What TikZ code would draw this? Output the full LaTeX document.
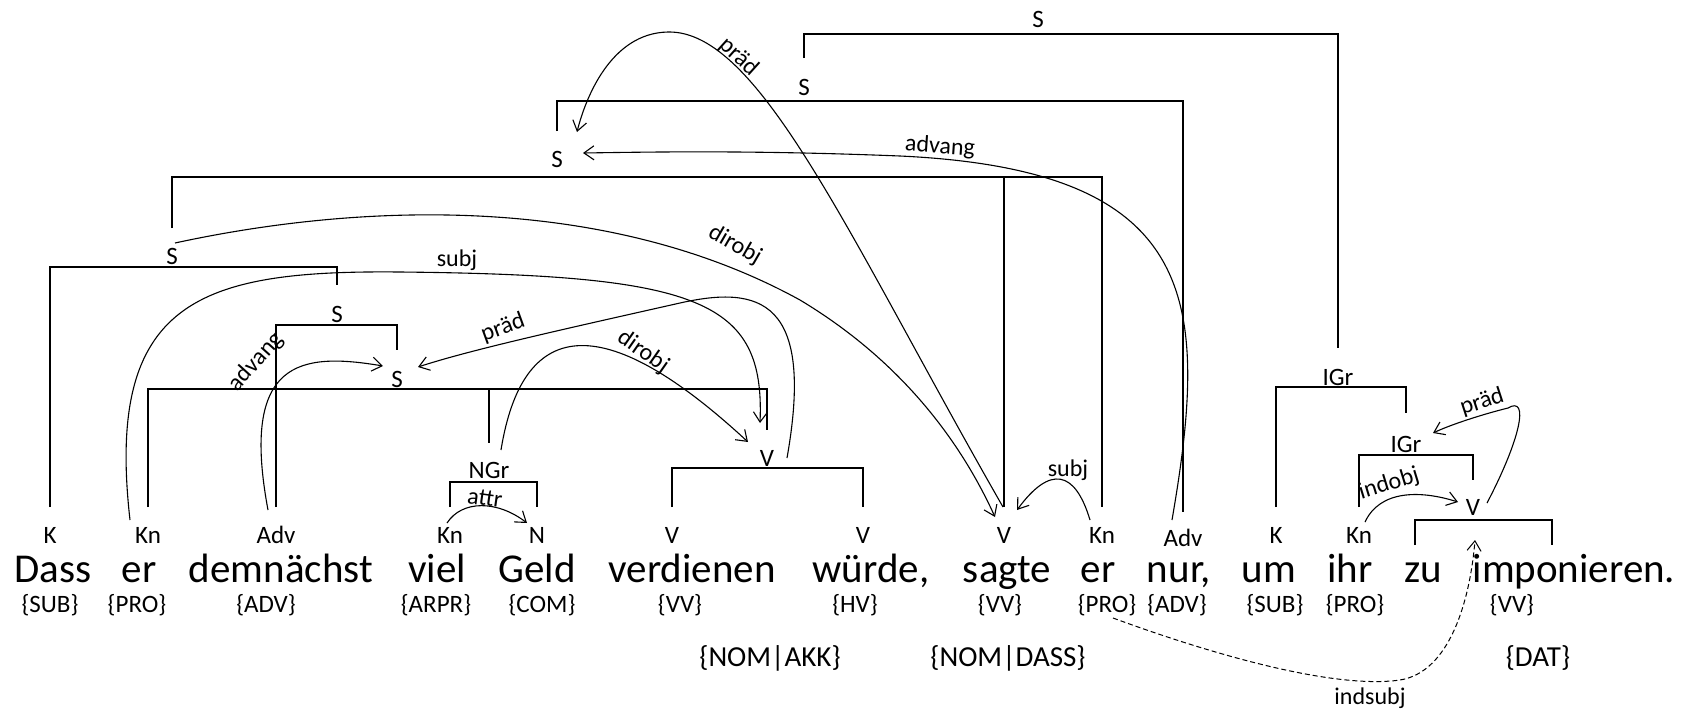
\documentclass[tikz,border=0pt]{standalone}
\usepackage{fontspec}
\setmainfont{Carlito}
\usetikzlibrary{arrows.meta}
\begin{document}
\begin{tikzpicture}[x=1pt,y=-1pt,
 wordn/.style={anchor=base,inner sep=0pt,font=\fontsize{41}{45}\selectfont},
 labn/.style={anchor=base,inner sep=0pt,font=\fontsize{25}{28}\selectfont},
 tagn/.style={anchor=base,inner sep=0pt,font=\fontsize{25}{28}\selectfont},
 btagn/.style={anchor=base,inner sep=0pt,font=\fontsize{29}{32}\selectfont},
 rlab/.style={inner sep=0pt,font=\fontsize{24}{27}\selectfont},
 brk/.style={line width=2.3pt,line join=miter},
 dep/.style={line width=1.1pt,-{Straight Barb[length=10pt,width=14pt]}},
 dashdep/.style={line width=1pt,dash pattern=on 5pt off 3pt,-{Straight Barb[length=10pt,width=14pt]}},
]
\useasboundingbox (0,0) rectangle (1690,713);

% words
\node[wordn] (w1) at (53,582) {Dass};
\node[wordn] (w2) at (139,582) {er};
\node[wordn] (w3) at (281,582) {demnächst};
\node[wordn] (w4) at (437,582) {viel};
\node[wordn] (w5) at (537,582) {Geld};
\node[wordn] (w6) at (692,582) {verdienen};
\node[wordn] (w7) at (871,582) {würde,};
\node[wordn] (w8) at (1007,582) {sagte};
\node[wordn] (w9) at (1098,582) {er};
\node[wordn] (w10) at (1179,582) {nur,};
\node[wordn] (w11) at (1269,582) {um};
\node[wordn] (w12) at (1350,582) {ihr};
\node[wordn] (w13) at (1423,582) {zu};
\node[wordn] (w14) at (1574,582) {imponieren.};

% tags
\node[tagn] (t1) at (50,612) {\{SUB\}};
\node[tagn] (t2) at (137,612) {\{PRO\}};
\node[tagn] (t3) at (266,612) {\{ADV\}};
\node[tagn] (t4) at (436,612) {\{ARPR\}};
\node[tagn] (t5) at (542,612) {\{COM\}};
\node[tagn] (t6) at (680,612) {\{VV\}};
\node[tagn] (t7) at (855,612) {\{HV\}};
\node[tagn] (t8) at (1000,612) {\{VV\}};
\node[tagn] (t9) at (1107,612) {\{PRO\}};
\node[tagn] (t10) at (1177,612) {\{ADV\}};
\node[tagn] (t11) at (1275,612) {\{SUB\}};
\node[tagn] (t12) at (1355,612) {\{PRO\}};
\node[tagn] (t13) at (1512,612) {\{VV\}};
\node[btagn] (bt1) at (770,666) {\{NOM|AKK\}};
\node[btagn] (bt2) at (1008,666) {\{NOM|DASS\}};
\node[btagn] (bt3) at (1538,666) {\{DAT\}};

% word labels
\node[labn] (K1) at (50,543) {K};
\node[labn] (Kn1) at (148,543) {Kn};
\node[labn] (Adv1) at (276,543) {Adv};
\node[labn] (Kn2) at (450,543) {Kn};
\node[labn] (N) at (537,543) {N};
\node[labn] (V4) at (672,543) {V};
\node[labn] (V5) at (863,543) {V};
\node[labn] (V6) at (1004,543) {V};
\node[labn] (Kn3) at (1102,543) {Kn};
\node[labn] (Adv2) at (1183,546) {Adv};
\node[labn] (K2) at (1276,543) {K};
\node[labn] (Kn4) at (1359,543) {Kn};

% phrase labels
\node[labn] (S0) at (1038,27) {S};
\node[labn] (S1) at (804,95) {S};
\node[labn] (S2) at (557,167) {S};
\node[labn] (S3) at (172,264) {S};
\node[labn] (S4) at (337,322) {S};
\node[labn] (S5) at (397,387) {S};
\node[labn] (NGr) at (489,478) {NGr};
\node[labn] (V1) at (767,466) {V};
\node[labn] (IGr1) at (1338,385) {IGr};
\node[labn] (IGr2) at (1406,452) {IGr};
\node[labn] (V3) at (1473,515) {V};
\coordinate (zuT) at (1415,545);
\coordinate (impT) at (1552,545);

% brackets
\draw[brk] (S1 |- 0,58) -- (S1 |- 0,34) -- (IGr1 |- 0,34) -- (IGr1 |- 0,348);
\draw[brk] (S2 |- 0,131) -- (S2 |- 0,101) -- (Adv2 |- 0,101) -- (Adv2 |- 0,512);
\draw[brk] (S3 |- 0,228) -- (S3 |- 0,177) -- (Kn3 |- 0,177) -- (Kn3 |- 0,507);
\draw[brk] (V6 |- 0,177) -- (V6 |- 0,507);
\draw[brk] (K1 |- 0,507) -- (K1 |- 0,267) -- (S4 |- 0,267) -- (S4 |- 0,285);
\draw[brk] (Adv1 |- 0,507) -- (Adv1 |- 0,325) -- (S5 |- 0,325) -- (S5 |- 0,350);
\draw[brk] (Kn1 |- 0,507) -- (Kn1 |- 0,389) -- (V1 |- 0,389) -- (V1 |- 0,430);
\draw[brk] (NGr |- 0,389) -- (NGr |- 0,443);
\draw[brk] (Kn2 |- 0,507) -- (Kn2 |- 0,482) -- (N |- 0,482) -- (N |- 0,507);
\draw[brk] (V4 |- 0,507) -- (V4 |- 0,468) -- (V5 |- 0,468) -- (V5 |- 0,507);
\draw[brk] (K2 |- 0,507) -- (K2 |- 0,387) -- (IGr2 |- 0,387) -- (IGr2 |- 0,413);
\draw[brk] (Kn4 |- 0,507) -- (Kn4 |- 0,455) -- (V3 |- 0,455) -- (V3 |- 0,480);
\draw[brk] (zuT) -- (zuT |- 0,520) -- (impT |- 0,520) -- (impT);

% dependency arcs
\draw[dep] ([shift={(-3,-20)}]Kn2.base) .. controls (462,500) and (497,500) .. ([shift={(-10,-20)}]N.base);
\draw[dep] ([shift={(-18,-23)}]Kn1.base) .. controls (105,300) and (200,270) .. (400,272) .. controls (700,275) and (765,300) .. ([shift={(-7,-43)}]V1.base);
\draw[dep] ([shift={(-8,-33)}]Adv1.base) .. controls (240,360) and (300,352) .. ([shift={(-14,-21)}]S5.base);
\draw[dep] ([shift={(20,-8)}]V1.base) .. controls (815,300) and (760,285) .. (680,303) .. controls (560,330) and (470,350) .. ([shift={(21,-20)}]S5.base);
\draw[dep] ([shift={(12,-28)}]NGr.base) .. controls (522,320) and (600,305) .. ([shift={(-19,-24)}]V1.base);
\draw[dep] ([shift={(3,-21)}]S3.base) .. controls (350,205) and (600,190) .. (800,300) .. controls (900,360) and (960,440) .. ([shift={(-9,-26)}]V6.base);
\draw[dep] ([shift={(-1,-36)}]V6.base) .. controls (850,240) and (760,30) .. (668,32) .. controls (610,33) and (585,100) .. ([shift={(20,-35)}]S2.base);
\draw[dep] ([shift={(-11,-26)}]Adv2.base) .. controls (1210,300) and (1200,170) .. (900,156) .. controls (750,150) and (650,152) .. ([shift={(26,-14)}]S2.base);
\draw[dep] ([shift={(-12,-23)}]Kn3.base) .. controls (1075,470) and (1050,465) .. ([shift={(13,-33)}]V6.base);
\draw[dashdep] ([shift={(6,6)}]t9.base) .. controls (1200,650) and (1330,690) .. (1400,680) .. controls (1450,672) and (1470,600) .. ([shift={(2,25)}]V3.base);
\draw[dep] ([shift={(6,-21)}]Kn4.base) .. controls (1380,490) and (1420,490) .. ([shift={(-15,-13)}]V3.base);
\draw[dep] ([shift={(14,-12)}]V3.base) .. controls (1520,440) and (1530,395) .. (1508,408) .. controls (1480,415) and (1450,425) .. ([shift={(27,-19)}]IGr2.base);

% relation labels
\node[rlab,rotate=-8] (r1) at (485,498) {attr};
\node[rlab] (r2) at (457,260) {subj};
\node[rlab,rotate=48] (r3) at (256,362) {advang};
\node[rlab,rotate=20] (r4) at (503,328) {präd};
\node[rlab,rotate=-35] (r5) at (643,352) {dirobj};
\node[rlab,rotate=-30] (r6) at (735,245) {dirobj};
\node[rlab,rotate=-42] (r7) at (739,57) {präd};
\node[rlab,rotate=-4] (r8) at (940,147) {advang};
\node[rlab] (r9) at (1068,470) {subj};
\node[rlab] (r10) at (1370,698) {indsubj};
\node[rlab,rotate=17] (r11) at (1389,484) {indobj};
\node[rlab,rotate=18] (r12) at (1482,402) {präd};
\end{tikzpicture}
\end{document}
